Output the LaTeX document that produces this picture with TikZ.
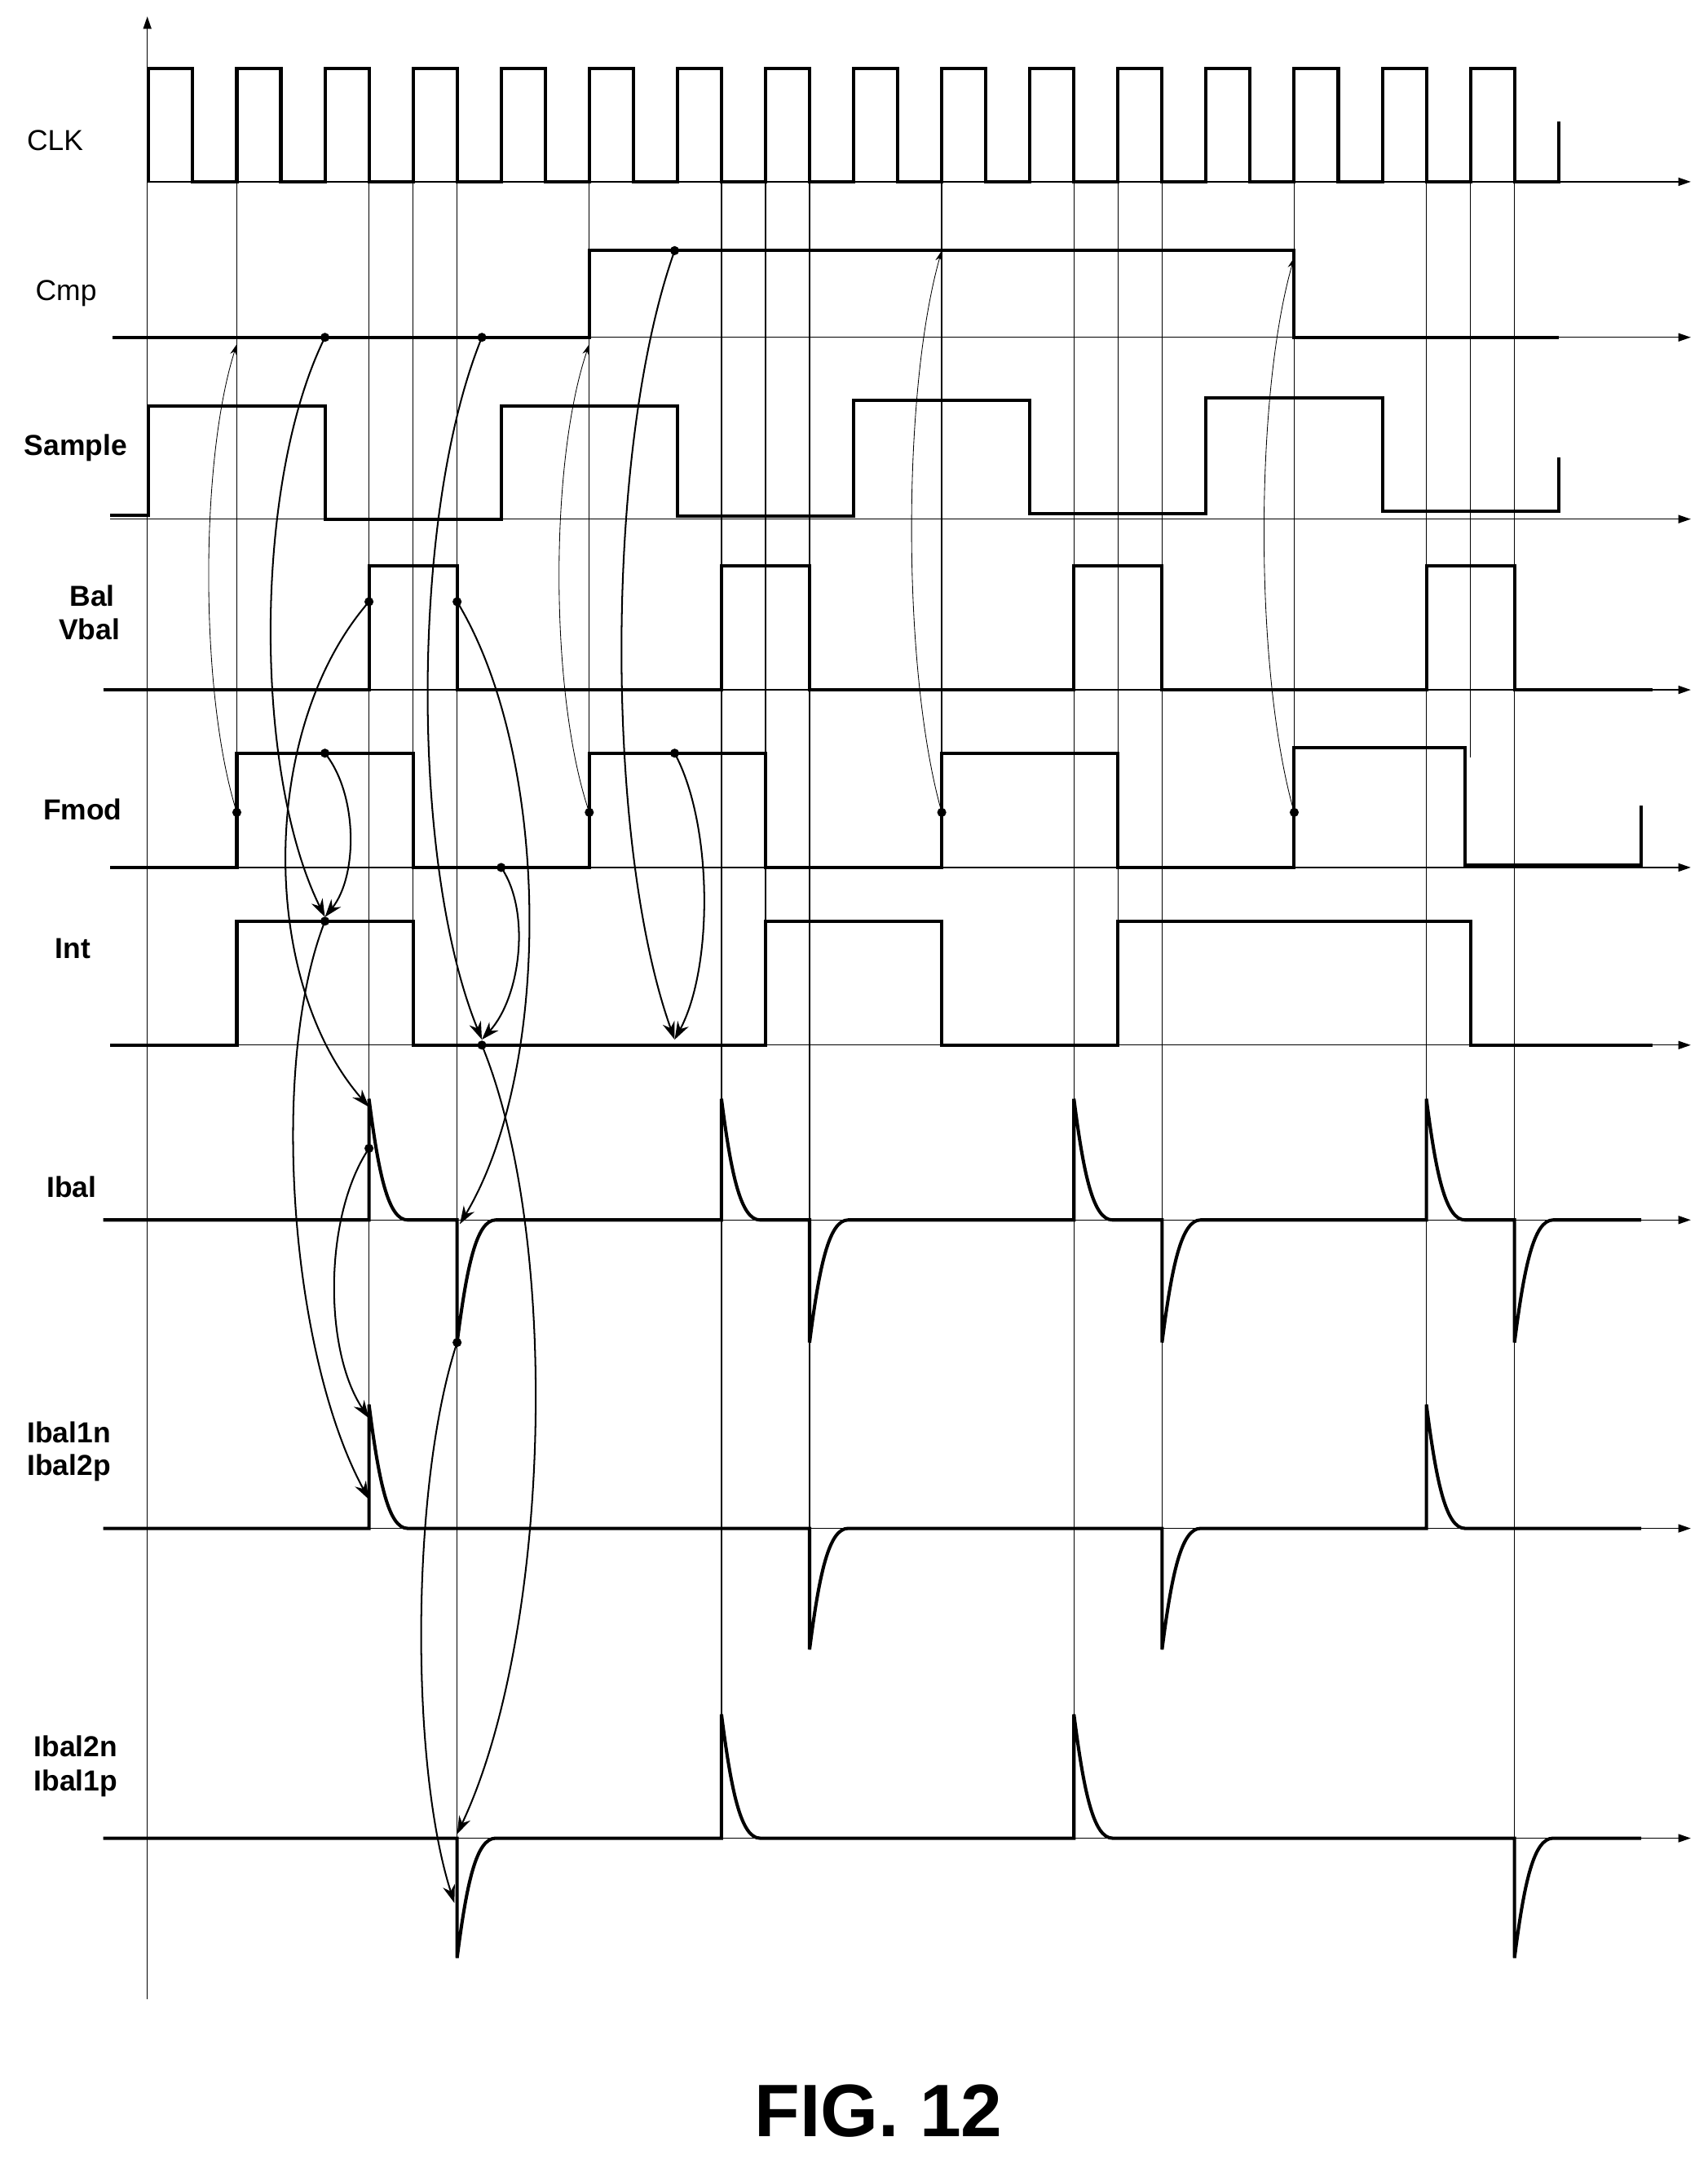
\documentclass[tikz,border=0pt]{standalone}
\usepackage{fontspec}
\setmainfont{Liberation Sans}
\usetikzlibrary{calc,arrows.meta}
\tikzset{
 sig/.style={line width=2.4pt,line join=miter},
 ax/.style={line width=0.7pt,-{Triangle[length=9pt,width=6pt]}},
 grid/.style={line width=0.8pt},
 arr/.style={line width=1.2pt,-{Stealth[length=13pt,width=9pt]}},
 tarr/.style={line width=0.5pt,-{Stealth[length=8pt,width=5pt]}},
 lab/.style={font=\fontsize{21}{24}\selectfont\bfseries},
 labn/.style={font=\fontsize{21}{24}\selectfont},
}
\newcommand\carc[4]{\draw[#4] (#1) .. controls ($(#1)!0.25!(#2)+(#3,0)$) and ($(#1)!0.75!(#2)+(#3,0)$) .. (#2);}
\newcommand\pspike[3]{-- (#1,#2) -- (#1,#3) .. controls ({#1+7},{#3+55}) and ({#1+14},#2) .. ({#1+28},#2)}
\newcommand\nspike[3]{-- (#1,#2) -- (#1,#3) .. controls ({#1+7},{#3-55}) and ({#1+14},#2) .. ({#1+28},#2)}
\begin{document}
\begin{tikzpicture}[x=1pt,y=-1pt]
\useasboundingbox (0,0) rectangle (1240,1568);
% vertical axis
\draw[ax] (107,1452) -- (107,12);
% grid lines
\foreach \x/\a/\b in {172/132/630,268/132/1110,300/132/759,332/132/1335,428/132/590,524/132/1335,556/132/759,588/132/1110,684/132/590,780/132/1335,812/132/759,844/132/1110,940/132/590,1036/132/1110,1068/132/550,1100/132/1335}
  \draw[grid] (\x,\a) -- (\x,\b);
% axes
\foreach \y/\s in {132/107,245/82,377/80,501/75,630/80,759/80,886/75,1110/75,1335/75}
  \draw[ax] (\s,\y) -- (1228,\y);
% CLK
\draw[sig] (108,132) foreach \i in {0,...,15}{ -- ({108+64*\i},50) -- ({140+64*\i},50) -- ({140+64*\i},132) -- ({172+64*\i},132)} -- (1132,88);
% Cmp
\draw[sig] (82,245) -- (428,245) -- (428,182) -- (940,182) -- (940,245) -- (1132,245);
% Sample
\draw[sig] (80,374) -- (108,374) -- (108,295) -- (236,295) -- (236,377) -- (364,377) -- (364,295) -- (492,295) -- (492,375) -- (620,375) -- (620,291) -- (748,291) -- (748,373) -- (876,373) -- (876,289) -- (1004,289) -- (1004,371) -- (1132,371) -- (1132,332);
% Vbal
\draw[sig] (75,501) -- (268,501) -- (268,411) -- (332,411) -- (332,501) -- (524,501) -- (524,411) -- (588,411) -- (588,501) -- (780,501) -- (780,411) -- (844,411) -- (844,501) -- (1036,501) -- (1036,411) -- (1100,411) -- (1100,501) -- (1200,501);
% Fmod
\draw[sig] (80,630) -- (172,630) -- (172,547) -- (300,547) -- (300,630) -- (428,630) -- (428,547) -- (556,547) -- (556,630) -- (684,630) -- (684,547) -- (812,547) -- (812,630) -- (940,630) -- (940,543) -- (1064,543) -- (1064,628) -- (1192,628) -- (1192,585);
% Int
\draw[sig] (80,759) -- (172,759) -- (172,669) -- (300,669) -- (300,759) -- (556,759) -- (556,669) -- (684,669) -- (684,759) -- (812,759) -- (812,669) -- (1068,669) -- (1068,759) -- (1200,759);
% Ibal
\draw[sig] (75,886) \pspike{268}{886}{798} \nspike{332}{886}{975} \pspike{524}{886}{798} \nspike{588}{886}{975} \pspike{780}{886}{798} \nspike{844}{886}{975} \pspike{1036}{886}{798} \nspike{1100}{886}{975} -- (1192,886);
% Ibal1n
\draw[sig] (75,1110) \pspike{268}{1110}{1020} \nspike{588}{1110}{1198} \nspike{844}{1110}{1198} \pspike{1036}{1110}{1020} -- (1192,1110);
% Ibal2n
\draw[sig] (75,1335) \nspike{332}{1335}{1422} \pspike{524}{1335}{1245} \pspike{780}{1335}{1245} \nspike{1100}{1335}{1422} -- (1192,1335);
% labels
\node[labn] (lclk) at (40,102) {CLK};
\node[labn] (lcmp) at (48,213) {Cmp};
\node[lab] (lsam) at (55,325) {Sample};
\node[lab] (lbal) at (67,433) {Bal};
\node[lab] (lvbal) at (65,457) {Vbal};
\node[lab] (lfmod) at (60,588) {Fmod};
\node[lab] (lint) at (53,689) {Int};
\node[lab] (libal) at (52,862) {Ibal};
\node[lab] (lb1n) at (50,1040) {Ibal1n};
\node[lab] (lb2p) at (50,1066) {Ibal2p};
\node[lab] (lb2n) at (55,1268) {Ibal2n};
\node[lab] (lb1p) at (55,1295) {Ibal1p};
\node[font=\fontsize{54}{60}\selectfont\bfseries] (fig) at (638,1533) {FIG. 12};
% coordinates
\coordinate (f1) at (172,590); \coordinate (c1) at (172,250);
\coordinate (f2) at (428,590); \coordinate (c2) at (428,250);
\coordinate (f3) at (684,590); \coordinate (c3) at (684,182);
\coordinate (f4) at (940,590); \coordinate (c4) at (940,187);
\coordinate (cA) at (236,245); \coordinate (cB) at (350,245); \coordinate (cC) at (490,182);
\coordinate (vA) at (268,437); \coordinate (vB) at (332,437);
\coordinate (fA) at (236,547); \coordinate (fB) at (364,630); \coordinate (fC) at (490,547);
\coordinate (iA) at (236,669); \coordinate (iAt) at (236,666);
\coordinate (iB) at (350,759); \coordinate (iBt) at (350,755);
\coordinate (iCt) at (490,755);
\coordinate (bA) at (268,834); \coordinate (bAt) at (268,804);
\coordinate (bN) at (332,975); \coordinate (bNt) at (334,889);
\coordinate (n1a) at (268,1030); \coordinate (n1b) at (268,1089);
\coordinate (n2a) at (332,1332); \coordinate (n2b) at (330,1382);
\foreach \c in {f1,f2,f3,f4,cA,cB,cC,vA,vB,fA,fB,fC,iA,iB,bA,bN}
  \fill (\c) circle (3.3);
% thin arrows
\carc{f1}{c1}{-27}{tarr}
\carc{f2}{c2}{-29}{tarr}
\carc{f3}{c3}{-29}{tarr}
\carc{f4}{c4}{-29}{tarr}
% thick arrows
\carc{cA}{iAt}{-52}{arr}
\carc{vA}{bAt}{-80}{arr}
\carc{fA}{iAt}{24}{arr}
\carc{cB}{iBt}{-52}{arr}
\carc{fB}{iBt}{25}{arr}
\carc{vB}{bNt}{68}{arr}
\carc{iB}{n2a}{63}{arr}
\carc{cC}{iCt}{-51}{arr}
\carc{fC}{iCt}{28}{arr}
\carc{iA}{n1b}{-49}{arr}
\carc{bA}{n1a}{-33}{arr}
\carc{bN}{n2b}{-33}{arr}
\end{tikzpicture}
\end{document}
